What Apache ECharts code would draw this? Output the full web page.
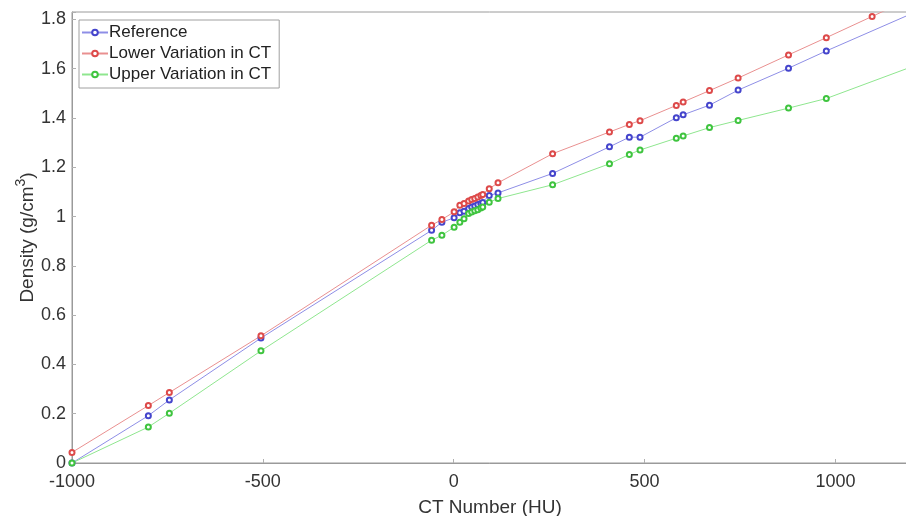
<!DOCTYPE html>
<html>
<head>
<meta charset="utf-8">
<script src="https://cdn.jsdelivr.net/npm/echarts@6/dist/echarts.min.js"></script>
<style>
  html, body { margin: 0; padding: 0; background: #fff; }
  #chart { width: 906px; height: 516px; }
</style>
</head>
<body>
<div id="chart"></div>
<script>
// CT numbers (HU) shared by the three curves
var ctNumbers = [-1000, -800, -745, -505, -58, -31, 1, 16, 27, 39, 47, 55, 63, 71, 76, 93, 116,
                 259, 408, 460, 488, 583, 601, 670, 745, 877, 976];

var referenceDensity = [0, 0.192, 0.256, 0.507, 0.944, 0.977, 0.995, 1.015, 1.022,
                        1.033, 1.039, 1.043, 1.049, 1.053, 1.057, 1.085, 1.096,
                        1.175, 1.283, 1.322, 1.322, 1.401, 1.413, 1.452, 1.513, 1.602, 1.672];
var lowerDensity = [0.043, 0.233, 0.286, 0.516, 0.965, 0.988, 1.019, 1.046, 1.053,
                    1.063, 1.069, 1.073, 1.079, 1.085, 1.089, 1.113, 1.137,
                    1.255, 1.343, 1.374, 1.389, 1.451, 1.465, 1.511, 1.562, 1.656, 1.726];
var upperDensity = [0, 0.146, 0.202, 0.455, 0.904, 0.924, 0.957, 0.977, 0.991,
                    1.012, 1.018, 1.024, 1.028, 1.035, 1.039, 1.058, 1.073,
                    1.129, 1.214, 1.252, 1.270, 1.318, 1.327, 1.361, 1.390, 1.440, 1.479];

// points past the right / top edge of the axes
var referenceTail = [[1400, 1.959]];
var lowerTail = [[1096, 1.812], [1400, 2.030]];
var upperTail = [[1400, 1.723]];

var xTicks = [-1000, -500, 0, 500, 1000];
var yTicks = [0, 0.2, 0.4, 0.6, 0.8, 1, 1.2, 1.4, 1.6, 1.8];

function pairs(xs, ys, tail) {
    return xs.map(function(x, i) { return [x, ys[i]]; }).concat(tail);
}

var chart = echarts.init(document.getElementById('chart'));

function mkSeries(name, data, lineColor, markColor) {
    return {
        name: name,
        type: 'line',
        data: data,
        symbol: 'emptyCircle',
        symbolSize: 5,
        showAllSymbol: true,
        clip: true,
        lineStyle: { color: lineColor, width: 1 },
        itemStyle: { color: markColor, borderColor: markColor, borderWidth: 1 },
        emphasis: { disabled: true },
        animation: false
    };
}

var option = {
    animation: false,
    textStyle: { fontFamily: 'Liberation Sans, Arial, sans-serif' },
    grid: {
        left: 72,
        right: -2,
        top: 12,
        bottom: 53,
        outerBoundsMode: 'none',
        containLabel: false,
        show: true,
        borderColor: '#9a9a9a',
        borderWidth: 1
    },
    legend: {
        orient: 'vertical',
        left: 79,
        top: 20,
        padding: [4, 8, 5, 2],
        itemGap: 4,
        itemWidth: 26,
        itemHeight: 7,
        borderColor: '#a0a0a0',
        borderWidth: 1,
        borderRadius: 0,
        backgroundColor: '#fff',
        textStyle: { fontSize: 17, color: '#222', padding: [0, 0, 0, -4] },
        data: ['Reference', 'Lower Variation in CT', 'Upper Variation in CT']
    },
    xAxis: {
        type: 'value',
        min: -1000,
        max: 1190,
        interval: 500,
        name: 'CT Number (HU)',
        nameLocation: 'middle',
        nameGap: 35,
        nameMoveOverlap: false,
        nameTextStyle: { fontSize: 19, color: '#333' },
        axisLine: { onZero: false, lineStyle: { color: '#9a9a9a' } },
        axisTick: { show: true, inside: true, length: 4, lineStyle: { color: '#b0b0b0' } },
        axisLabel: {
            fontSize: 18, color: '#333', margin: 10,
            customValues: xTicks,
            formatter: function(v) { return String(v); }
        },
        splitLine: { show: false }
    },
    yAxis: {
        type: 'value',
        min: 0,
        max: 1.83,
        interval: 0.2,
        name: '{a|Density (g/cm}{s|3}{a|)}',
        nameLocation: 'middle',
        nameGap: 31,
        nameMoveOverlap: false,
        nameTextStyle: {
            color: '#333',
            rich: {
                a: { fontSize: 19, color: '#333' },
                s: { fontSize: 14, color: '#333', padding: [0, 0, 13, 0] }
            }
        },
        axisLine: { show: true, onZero: false, lineStyle: { color: '#9a9a9a' } },
        axisTick: { show: true, inside: true, length: 4, lineStyle: { color: '#b0b0b0' } },
        axisLabel: {
            fontSize: 18, color: '#333', margin: 6,
            customValues: yTicks,
            formatter: function(v) { return String(Math.round(v * 10) / 10); }
        },
        splitLine: { show: false }
    },
    series: [
        mkSeries('Reference', pairs(ctNumbers, referenceDensity, referenceTail), '#8e8ee6', '#4545cc'),
        mkSeries('Lower Variation in CT', pairs(ctNumbers, lowerDensity, lowerTail), '#e99090', '#dd4a4a'),
        mkSeries('Upper Variation in CT', pairs(ctNumbers, upperDensity, upperTail), '#8fe68f', '#3fc43f')
    ]
};

chart.setOption(option);

window.addEventListener('resize', function() {
    chart.resize();
});
</script>
</body>
</html>
